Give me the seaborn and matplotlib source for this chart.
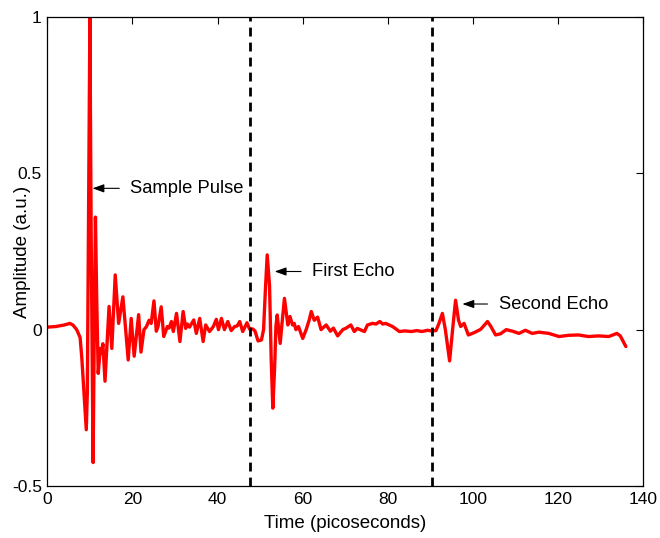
import matplotlib
matplotlib.use("Agg")
import matplotlib.pyplot as plt
import seaborn as sns
import pandas as pd

# ---- data ----
time_ps = [0.0, 2.0, 4.0, 5.3, 6.0, 6.9, 7.7, 8.1, 8.6, 9.15, 9.4, 9.7, 10.0, 10.3, 10.75,
           11.0, 11.3, 11.6, 11.95, 12.45, 12.75, 13.05, 13.55, 14.5, 15.15, 15.95, 16.75,
           17.75, 19.0, 19.7, 20.4, 21.45, 22.0, 22.7, 23.3, 23.9, 24.4, 25.05, 25.6, 26.0,
           26.75, 27.35, 28.2, 28.6, 29.15, 29.6, 30.35, 31.15, 31.9, 32.5, 32.9, 33.4, 34.4,
           35.0, 35.8, 36.6, 37.2, 38.1, 39.0, 39.7, 40.2, 40.9, 41.6, 42.4, 43.2, 44.0, 44.6,
           45.2, 45.9, 46.9, 47.5, 48.3, 48.8, 49.5, 50.3, 50.8, 51.2, 51.65, 52.2, 52.6,
           52.97, 53.4, 53.7, 54.0, 54.7, 55.2, 55.7, 56.5, 57.0, 57.6, 58.0, 58.4, 59.0,
           60.0, 60.8, 61.5, 62.0, 62.7, 63.5, 64.3, 65.5, 66.5, 67.2, 68.2, 69.4, 70.2,
           71.3, 72.1, 72.8, 73.5, 74.5, 75.2, 76.4, 77.2, 78.1, 78.8, 79.5, 81.1, 82.7,
           84.0, 85.5, 86.8, 88.0, 89.3, 90.2, 91.3, 92.0, 92.8, 93.5, 94.5, 95.2, 95.9,
           96.6, 97.1, 97.9, 98.9, 100.2, 101.8, 102.7, 103.4, 104.2, 105.3, 106.5, 107.8,
           109.3, 110.8, 112.3, 113.9, 115.5, 117.8, 120.2, 122.5, 124.8, 127.1, 129.5,
           131.9, 133.0, 133.8, 134.6, 135.9]
amplitude = [0.008, 0.010, 0.015, 0.020, 0.015, 0.000, -0.025, -0.09, -0.20, -0.32, -0.20,
             0.40, 1.00, 0.30, -0.425, -0.05, 0.36, 0.10, -0.14, -0.06, -0.075, -0.045,
             -0.165, 0.074, -0.06, 0.175, 0.02, 0.105, -0.097, 0.036, -0.085, 0.048, -0.072,
             0.0, 0.01, 0.03, 0.02, 0.092, -0.005, 0.01, 0.073, -0.022, 0.01, 0.005, 0.026,
             -0.006, 0.052, -0.038, 0.058, 0.004, 0.018, 0.008, 0.031, -0.012, 0.036, -0.038,
             0.015, -0.006, 0.01, 0.033, 0.0, 0.036, 0.0, 0.026, -0.003, 0.01, 0.012, 0.026,
             -0.006, 0.022, 0.002, 0.002, -0.005, -0.036, -0.033, 0.0, 0.12, 0.239, 0.14,
             -0.10, -0.251, -0.12, 0.01, 0.047, -0.044, 0.03, 0.10, 0.015, 0.042, 0.015, 0.02,
             0.0, 0.01, -0.028, 0.0, 0.03, 0.058, 0.03, 0.04, 0.0, 0.015, -0.005, 0.005,
             -0.02, 0.0, 0.005, 0.015, -0.006, 0.004, 0.0, -0.006, 0.015, 0.02, 0.018, 0.026,
             0.018, 0.02, 0.01, -0.006, -0.004, -0.006, -0.003, -0.006, -0.002, -0.004,
             -0.003, 0.02, 0.052, 0.0, -0.10, 0.0, 0.094, 0.03, 0.01, 0.02, -0.017, -0.01,
             0.001, 0.015, 0.026, 0.01, -0.017, -0.013, 0.0, -0.005, -0.012, -0.002, -0.012,
             -0.008, -0.012, -0.022, -0.018, -0.017, -0.022, -0.02, -0.022, -0.016, -0.012,
             -0.02, -0.054]

window_edges = [47.7, 90.3]

labels = ["Sample Pulse", "First Echo", "Second Echo"]
label_tip_t = [10.6, 53.4, 97.5]
label_tail_t = [16.9, 59.6, 103.4]
label_text_t = [19.4, 62.2, 106.1]
label_y = [0.452, 0.186, 0.082]

x_ticks = [0, 20, 40, 60, 80, 100, 120, 140]
y_ticks = [-0.5, 0, 0.5, 1]
y_tick_labels = ["-0.5", "0", "0.5", "1"]

# ---- plotting ----
sns.set_style("white")
plt.rcParams["font.family"] = ["Liberation Sans", "DejaVu Sans"]

fig = plt.figure(figsize=(6.6, 5.38), dpi=100)
ax = fig.add_axes([0.0717, 0.0967, 0.9030, 0.8717])

df = pd.DataFrame({"t": time_ps, "a": amplitude})
sns.lineplot(data=df, x="t", y="a", ax=ax, color="#ff0000", linewidth=2.4,
             sort=False, estimator=None)

for xe in window_edges:
    ax.axvline(xe, color="black", linestyle=(0, (3.2, 2.2)), linewidth=2.0)

for lab, tip, tail, tx, yy in zip(labels, label_tip_t, label_tail_t, label_text_t, label_y):
    ax.annotate("", xy=(tip, yy), xytext=(tail, yy),
                arrowprops=dict(arrowstyle="-|>,head_length=0.7,head_width=0.25",
                                color="black", lw=0.8, shrinkA=0, shrinkB=0))
    ax.text(tx, yy, lab, va="center", ha="left", fontsize=13.2, color="black")

ax.set_xlim(0, 140)
ax.set_ylim(-0.5, 1)
ax.set_xticks(x_ticks)
ax.set_yticks(y_ticks)
ax.set_yticklabels(y_tick_labels)
ax.tick_params(direction="in", top=True, right=True, length=5, width=0.8,
               labelsize=12.5, colors="black", pad=4)
for s in ax.spines.values():
    s.set_color("black")
    s.set_linewidth(0.9)
    s.set_visible(True)

ax.set_xlabel("Time (picoseconds)", fontsize=13.5, color="black")
ax.set_ylabel("Amplitude (a.u.)", fontsize=13.5, color="black")
# place axis labels where the reference has them (pixel centres ~ x=22, y=524)
ax.xaxis.set_label_coords(0.5, (486 - 524) / 469, transform=ax.transAxes)
ax.xaxis.label.set_va("center")
ax.yaxis.set_label_coords((22 - 47.3) / 596, 0.5, transform=ax.transAxes)
ax.yaxis.label.set_va("center")

fig.savefig("out.png", dpi=100)
